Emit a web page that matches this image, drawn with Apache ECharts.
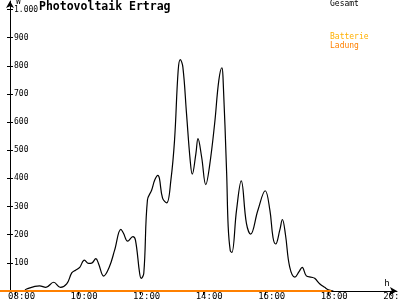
<!DOCTYPE html>
<html>
<head>
<meta charset="utf-8">
<script src="https://cdn.jsdelivr.net/npm/echarts@6/dist/echarts.min.js"></script>
<style>html,body{margin:0;padding:0;background:#fff}#c{width:400px;height:300px}</style>
</head>
<body>
<div id="c"></div>
<script>
const gesamtTimes = ['08:17','08:21','08:46','08:58','09:13','09:26','09:38','09:48','09:55','10:03','10:12','10:20','10:26','10:34','10:39','10:49','11:00','11:10','11:22','11:27','11:35','11:45','11:50','11:58','12:01','12:06','12:13','12:21','12:27','12:33','12:36','12:42','12:50','12:58','13:05','13:12','13:16','13:21','13:28','13:35','13:39','13:46','13:50','13:57','14:05','14:12','14:22','14:30','14:36','14:38','14:45','14:48','14:52','14:55','15:04','15:13','15:23','15:31','15:45','15:59','16:08','16:14','16:19','16:27','16:32','16:38','16:46','16:56','17:04','17:10','17:18','17:28','17:34','17:44','17:53','18:02','18:10'];
const gesamtValues = [0,7,18,13,31,13,25,65,74,84,110,98,99,115,98,53,86,145,219,205,177,193,181,63,45,63,323,358,394,411,400,330,313,394,535,784,822,795,630,465,415,488,541,476,378,441,595,748,793,760,420,228,143,137,287,391,240,202,287,356,287,190,167,216,254,199,86,49,69,84,54,49,45,25,13,3,0];
const ladungTimes = ['07:30','18:06'];
const ladungValues = [0,0];
const xTickHours = [8,10,12,14,16,18,20];
const yTickValues = [100,200,300,400,500,600,700,800,900,1000];

function toHours(t){ const p=t.split(':'); return +p[0] + (+p[1])/60; }
function pairs(times, vals){ return times.map((t,i)=>[toHours(t), vals[i]]); }
function pad(n){ return (n<10?'0':'')+n; }

const font = '"DejaVu Sans Mono", monospace';
const chart = echarts.init(document.getElementById('c'), null, {renderer:'canvas'});

const xBase = {
  type:'value', min:7.5, max:20.2, gridIndex:0,
  splitLine:{show:false}
};
const yBase = {
  type:'value', min:0, max:1030, position:'left', offset:-10,
  splitLine:{show:false}
};

chart.setOption({
  animation:false,
  backgroundColor:'#fff',
  title:{
    text:'Photovoltaik Ertrag', left:39, top:1, padding:0,
    textStyle:{fontFamily:font, fontSize:11.5, fontWeight:'bold', color:'#000'}
  },
  legend:[
    {
      data:[{name:'Gesamt', textStyle:{color:'#000'}}],
      left:325, top:0, icon:'none', itemWidth:0, itemHeight:0, padding:0,
      textStyle:{fontFamily:font, fontSize:8}
    },
    {
      data:[{name:'Batterie', textStyle:{color:'#FFB000'}},{name:'Ladung', textStyle:{color:'#FF8000'}}],
      left:325, top:32, orient:'vertical', itemGap:0, icon:'none', itemWidth:0, itemHeight:0, padding:0,
      textStyle:{fontFamily:font, fontSize:8, lineHeight:9}
    }
  ],
  grid:{left:0, right:3, top:1, bottom:9, containLabel:false, outerBoundsMode:'none'},
  xAxis:[
    Object.assign({}, xBase, {
      name:'h', nameLocation:'end', nameGap:-10,
      nameTextStyle:{fontFamily:font, fontSize:9, color:'#000', align:'center', verticalAlign:'bottom', padding:[0,0,3,0]},
      axisLine:{show:true, lineStyle:{color:'#000', width:1}, symbol:['none','arrow'], symbolSize:[6,7]},
      axisTick:{show:true, customValues:xTickHours, length:3, lineStyle:{color:'#000'}},
      axisLabel:{show:true, customValues:xTickHours, formatter:v=>pad(Math.round(v))+':00',
        fontFamily:font, fontSize:9, color:'#000', margin:1, padding:[0,0,0,12], hideOverlap:false}
    }),
    Object.assign({}, xBase, {
      axisLine:{show:false},
      axisTick:{show:true, inside:true, customValues:xTickHours, length:4, lineStyle:{color:'#000'}},
      axisLabel:{show:false}
    })
  ],
  yAxis:[
    Object.assign({}, yBase, {
      name:'W', nameLocation:'end', nameGap:-7,
      nameTextStyle:{fontFamily:font, fontSize:8, color:'#000', align:'left', padding:[0,0,0,6]},
      axisLine:{show:true, lineStyle:{color:'#000', width:1}, symbol:['none','arrow'], symbolSize:[6,7]},
      axisTick:{show:true, customValues:yTickValues, length:3, lineStyle:{color:'#000'}},
      axisLabel:{show:true, inside:true, customValues:yTickValues, margin:4,
        formatter:v=>v>=1000?'1.000':String(v),
        fontFamily:font, fontSize:8, color:'#000'}
    }),
    Object.assign({}, yBase, {
      axisLine:{show:false},
      axisTick:{show:true, inside:true, customValues:yTickValues, length:3, lineStyle:{color:'#000'}},
      axisLabel:{show:false}
    })
  ],
  series:[
    {
      name:'Gesamt', type:'line', xAxisIndex:0, yAxisIndex:0,
      data:pairs(gesamtTimes, gesamtValues),
      smooth:0.4, symbol:'none', clip:false,
      lineStyle:{color:'#000', width:1.2}, itemStyle:{color:'#000'}
    },
    {
      name:'Batterie', type:'line', xAxisIndex:0, yAxisIndex:0,
      data:[], symbol:'none',
      lineStyle:{color:'#FFB000', width:2}, itemStyle:{color:'#FFB000'}
    },
    {
      name:'Ladung', type:'line', xAxisIndex:0, yAxisIndex:0,
      data:pairs(ladungTimes, ladungValues), symbol:'none', clip:false,
      lineStyle:{color:'#FF8000', width:2}, itemStyle:{color:'#FF8000'}
    }
  ]
});
</script>
</body>
</html>
